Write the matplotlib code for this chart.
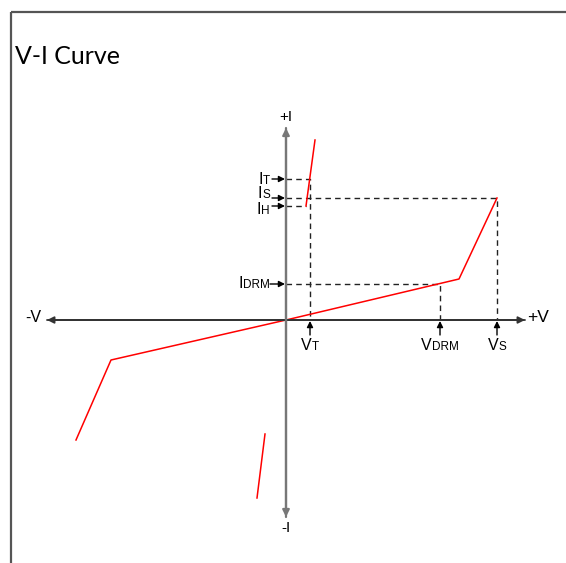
import matplotlib.pyplot as plt
from matplotlib.offsetbox import TextArea, HPacker, AnnotationBbox

# V-I characteristic (arbitrary units, origin at axis crossing)
curve_v = [-210, -175, 0, 173, 211]
curve_i = [-120, -40, 0, 41, 122]
on_v = [20, 29]          # on-state branch, forward
on_i = [114, 180]
rev_on_v = [-29, -21]    # on-state branch, reverse
rev_on_i = [-178, -114]

v_t, v_drm, v_s = 24, 154, 211
i_t, i_s, i_h, i_drm = 141, 122, 114, 36

plt.rcParams['font.family'] = ['Liberation Sans', 'DejaVu Sans']

fig = plt.figure(figsize=(5.66, 5.63), dpi=100)
ax = fig.add_axes([0, 0, 1, 1])
ax.set_xlim(-286, 280)
ax.set_ylim(-243, 320)
ax.axis('off')


def sub_label(x, y, main, sub, align):
    # letter with a small subscript sitting on the baseline
    box = HPacker(children=[TextArea(main, textprops=dict(fontsize=11.5)),
                            TextArea(sub, textprops=dict(fontsize=8.5))],
                  align='baseline', pad=0, sep=0)
    ab = AnnotationBbox(box, (x, y), box_alignment=align, frameon=False, pad=0)
    ax.add_artist(ab)


# frame (top and left edges only)
ax.plot([-275, 280], [308, 308], color='#555555', lw=1.6, solid_capstyle='butt')
ax.plot([-275, -275], [308, -243], color='#555555', lw=1.6, solid_capstyle='butt')
fig.text(15 / 566, 1 - 56 / 563, 'V-I Curve', fontsize=18, family='Lato', va='center', ha='left')

# axes with arrow heads
ax.annotate('', xy=(239, 0), xytext=(-239, 0),
            arrowprops=dict(arrowstyle='-|>', color='#333333', lw=1.3, mutation_scale=10, shrinkA=0, shrinkB=0))
ax.annotate('', xy=(-239, 0), xytext=(239, 0),
            arrowprops=dict(arrowstyle='-|>', color='#333333', lw=1.3, mutation_scale=10, shrinkA=0, shrinkB=0))
ax.annotate('', xy=(0, 192), xytext=(0, -197),
            arrowprops=dict(arrowstyle='-|>', color='#777777', lw=1.6, mutation_scale=10, shrinkA=0, shrinkB=0))
ax.annotate('', xy=(0, -197), xytext=(0, 192),
            arrowprops=dict(arrowstyle='-|>', color='#777777', lw=1.6, mutation_scale=10, shrinkA=0, shrinkB=0))
ax.text(0, 203, '+I', fontsize=11, ha='center', va='center')
ax.text(0, -208, '-I', fontsize=11, ha='center', va='center')
ax.text(-253, 2, '-V', fontsize=11.5, ha='center', va='center')
ax.text(252, 2, '+V', fontsize=12.5, ha='center', va='center')

# dashed guides
dash = dict(color='#222222', lw=1.0, ls=(0, (4, 3)))
ax.plot([0, v_t, v_t], [i_t, i_t, 0], **dash)
ax.plot([0, v_s, v_s], [i_s, i_s, 0], **dash)
ax.plot([0, on_v[0]], [i_h, i_h], **dash)
ax.plot([0, v_drm, v_drm], [i_drm, i_drm, 0], **dash)

# curve
ax.plot(curve_v, curve_i, color='red', lw=1.1)
ax.plot(on_v, on_i, color='red', lw=1.1)
ax.plot(rev_on_v, rev_on_i, color='red', lw=1.1)

# current markers on the I axis
arrow = dict(arrowstyle='-|>', color='black', lw=1.0, mutation_scale=9, shrinkA=0, shrinkB=0)
for val, sub, dy in [(i_t, 'T', 0), (i_s, 'S', 4), (i_h, 'H', -4)]:
    ax.annotate('', xy=(-1, val), xytext=(-14, val), arrowprops=arrow)
    sub_label(-16, val + dy, 'I', sub, (1, 0.5))
ax.annotate('', xy=(-1, i_drm), xytext=(-16, i_drm), arrowprops=arrow)
sub_label(-16, i_drm, 'I', 'DRM', (1, 0.5))

# voltage markers on the V axis
for val, sub in [(v_t, 'T'), (v_drm, 'DRM'), (v_s, 'S')]:
    ax.annotate('', xy=(val, -1), xytext=(val, -15), arrowprops=arrow)
    sub_label(val, -26, 'V', sub, (0.5, 0.5))

fig.savefig('out.png', dpi=100)
